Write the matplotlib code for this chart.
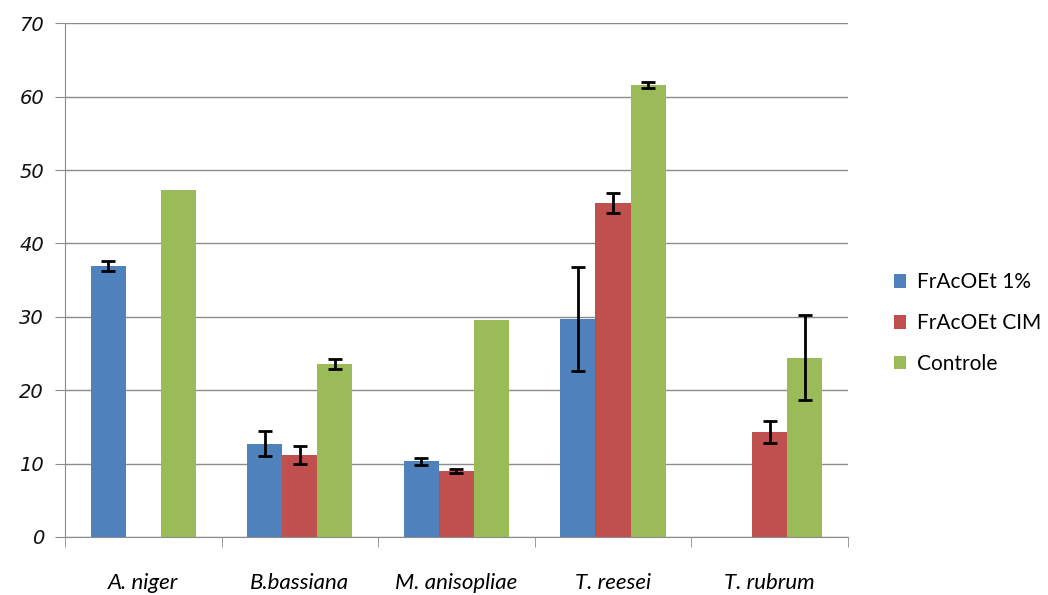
import matplotlib
matplotlib.use("Agg")
import matplotlib.pyplot as plt
import numpy as np

# data
categories = ['A. niger', 'B.bassiana', 'M. anisopliae', 'T. reesei', 'T. rubrum']
series_names = ['FrAcOEt 1%', 'FrAcOEt CIM', 'Controle']
fr1 = [36.9, 12.7, 10.3, 29.7, np.nan]
fr1_err = [0.7, 1.7, 0.5, 7.1, np.nan]
frcim = [np.nan, 11.2, 9.0, 45.5, 14.3]
frcim_err = [np.nan, 1.2, 0.3, 1.3, 1.5]
ctrl = [47.3, 23.6, 29.6, 61.6, 24.4]
ctrl_err = [np.nan, 0.7, np.nan, 0.4, 5.8]

colors = ['#4F81BD', '#C0504D', '#9BBB59']

fig = plt.figure(figsize=(10.48, 5.95), dpi=100)
ax = fig.add_axes([0.062, 0.0975, 0.747, 0.8635])

x = np.arange(len(categories))
w = 0.224
for i, (vals, errs) in enumerate([(fr1, fr1_err), (frcim, frcim_err), (ctrl, ctrl_err)]):
    pos = x + (i - 1) * w
    ax.bar(pos, vals, width=w, color=colors[i], label=series_names[i], zorder=2)
    ax.errorbar(pos, vals, yerr=errs, fmt='none', ecolor='black',
                elinewidth=2, capsize=5, capthick=2, zorder=3)

ax.set_xlim(-0.5, len(categories) - 0.5)
ax.set_ylim(0, 70)
ax.set_yticks(np.arange(0, 71, 10))
ax.yaxis.grid(True, color='#8c8c8c', linewidth=1, zorder=0)
ax.set_axisbelow(True)

for s in ['top', 'right']:
    ax.spines[s].set_visible(False)
ax.spines['left'].set_color('#8c8c8c')
ax.spines['bottom'].set_color('#8c8c8c')

ax.tick_params(axis='y', length=7, color='#8c8c8c', labelsize=14, pad=8)
for lab in ax.get_yticklabels():
    lab.set_fontstyle('italic')
    lab.set_family('DejaVu Sans')
    lab.set_color('#111111')

ax.set_xticks(x)
ax.set_xticklabels(categories, fontsize=16, fontstyle='italic', family='Lato')
ax.tick_params(axis='x', which='major', length=0, pad=26)
ax.set_xticks(np.arange(-0.5, len(categories)), minor=True)
ax.tick_params(axis='x', which='minor', length=7, color='#8c8c8c')

leg = ax.legend(loc='center left', bbox_to_anchor=(1.035, 0.416), frameon=False,
                fontsize=15, handlelength=0.6, handleheight=0.6,
                labelspacing=1.0, handletextpad=0.5)
for t in leg.get_texts():
    t.set_family('Lato')

fig.savefig('out.png', dpi=100)
